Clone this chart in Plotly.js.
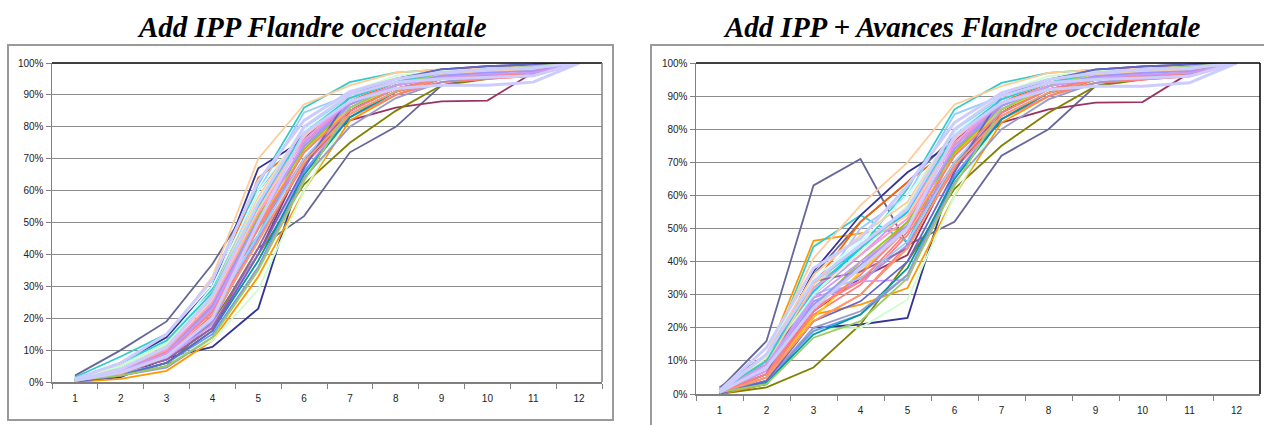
<!DOCTYPE html>
<html>
<head>
<meta charset="utf-8">
<script src="https://cdn.plot.ly/plotly-3.0.1.min.js"></script>
<style>
  html, body { margin: 0; padding: 0; background: #ffffff; }
  #chart { width: 1264px; height: 425px; }
</style>
</head>
<body>
<div id="chart"></div>
<script>
// ---------- DATA ----------
const categories = ['1','2','3','4','5','6','7','8','9','10','11','12'];
const titleLeft = 'Add IPP Flandre occidentale';
const titleRight = 'Add IPP + Avances Flandre occidentale';
const yTickValues = [0,10,20,30,40,50,60,70,80,90,100];
const yTickLabels = ['0%','10%','20%','30%','40%','50%','60%','70%','80%','90%','100%'];

// cumulative % per series, "Add IPP"
const ippValues = [
  [0,1.5,7.5,11,23,68,85,93,96,97,98,100],
  [1,4,9,18,42,52,72,80,93,96,97,100],
  [2,10,19,37,60,78,88,93,97,98,99,100],
  [0.5,3,7,17,40,70,82,86,88,88.2,97,100],
  [0,2,5,19,40,62,75,85,93,95,97,100],
  [0,1,3.5,13,33,60,82,90,95,97,98,100],
  [0.5,4,10,24,48,72,86,93,96,97,98,100],
  [1.5,8,15,29,62,86,94,97,98,98.5,99,100],
  [0.5,5,12,26,46,75,88,94,97,98,98.5,100],
  [1,6,14,33,70,87,93,97,98,98.5,99,100],
  [0.5,2.5,6,13,29,60,84,92,95,96,97,100],
  [1,6,14,30,67,76,91,95,98,99,99.5,100],
  [0.5,4,11,27,64,75,88,94,97,98,99,100],
  [1,5,12,28,60,84.5,90,95,97,98,98.5,100],
  [0.5,3,9,24,52,74,86,92,95,96,97,100],
  [0.5,3.5,9.5,22,48,70,84,91,94,95,96,100],
  [0,2.5,8,21,45,68,83,90,94,95,96,100],
  [0.5,3,8,19,45,73,87,93,96,97,98,100],
  [0.5,4,10,25,55,77,88,93,95,96,97,100],
  [0.5,3,7.5,18,40,66,84,91,95,96,96.5,100],
  [0.5,2.5,6,15,36,66,83,91,95,96,97,100],
  [1,5,13,27,55,80,89,94,97,98,98.5,100],
  [1,5,13,30,60,79,89,94,96,97,98,100],
  [0.5,4,10,23,52,73,86,93,96,97,98,100],
  [0.5,3,9,22,50,72,86,92,95,96,97,100],
  [0.5,4,10,25,53,76,88,93,96,97,98,100],
  [0.5,2,6,16,38,65,83,91,95,96,97,100],
  [0.5,3,7,17,42,70,85,92,95,96,97,100],
  [1,5,12,28,58,80,90,95,97,98,99,100],
  [0.5,3,8,23,50,75,87,93,96,97,98,100],
  [0.5,2,4.5,14,36,64,80,89,94,96,97,100],
  [0.5,3,9,22,46,70,86,93,96,97,98,100],
  [1,5,12,28,57,80,91,96,97.5,98,99,100],
  [0.5,4,11,26,54,77,89,94,96.5,97.5,98,100],
  [0.5,3.5,9,24,51,74,87,93,96,97,97.5,100],
  [0,2,6,16,40,67,90,95,98,99,99.5,100],
  [0.5,2.5,8,20,44,69,84,91,95,96,97,100],
  [0.5,2,5,14,35,63,86,93,97,98,99,100],
  [0.5,3,9,22,49,72,85,92,95,96,97,100],
  [1,6,13,28,56,78,89,94,97,98,98.5,100],
  [0.5,3.5,9,23,50,75,88,93,95.5,96.5,97,100],
  [1,6,15,32,63,82,91,95,97,98,98.5,100],
  [0.5,4,11,27,56,80,90,94,95,95.5,96,100],
  [0.5,3,8,20,50,78,88,92,93,93,94,100]
];

// cumulative % per series, "Add IPP + Avances"
const ippAvancesValues = [
  [0,3,20,21,23,68,85,93,96,97,98,100],
  [1.5,16,63,71,45,52,72,80,93,96,97,100],
  [2,12,36,52,64,78,88,93,97,98,99,100],
  [0.5,6,25,35,42,70,82,86,88,88.2,97,100],
  [0,2,8,21,40,62,75,85,93,95,97,100],
  [0,3,24,27,32,60,82,90,95,97,98,100],
  [0.5,11,46.3,48.5,50,72,86,93,96,97,98,100],
  [1.5,9,32,44,62,86,94,97,98,98.5,99,100],
  [0.5,9,44.5,54,46,75,88,94,97,98,98.5,100],
  [1,12,41,57,70,87.5,93,97,98,98.5,99,100],
  [0.5,6,19.5,20,28.5,60,84,92,95,96,97,100],
  [1,9,37,54,67,76,91,95,98,99,99.5,100],
  [0.5,8,33,52,64,75,88,94,97,98,99,100],
  [1,10,30,50,60,84.5,90,95,97,98,98.5,100],
  [0.5,7,27,38,52,74,86,92,95,96,97,100],
  [0.5,6,24,33,48,70,84,91,94,95,96,100],
  [0,5,22,30,45,68,83,90,94,95,96,100],
  [0.5,6,28,34,45,73,87,93,96,97,98,100],
  [0.5,9,30,42,55,77,88,93,95,96,97,100],
  [0.5,7,29,34,34.5,66,84,91,95,96,96.5,100],
  [0.5,4,19,24,36,66,83,91,95,96,97,100],
  [1,10,31,44,55,80,89,94,97,98,98.5,100],
  [1,14,35,46,60,79,89,94,96,97,98,100],
  [0.5,8,26,40,52,73,86,93,96,97,98,100],
  [0.5,6,23,37,50,72,86,92,95,96,97,100],
  [0.5,10,32,42,53,76,88,93,96,97,98,100],
  [0.5,3.5,18,24,38,65,83,91,95,96,97,100],
  [0.5,6,34,37,44,70,85,92,95,96,97,100],
  [1,12,36,48,58,80,90,95,97,98,99,100],
  [0.5,5,25,36,50,75,87,93,96,97,98,100],
  [0.5,4,20,25,36,64,80,89,94,96,97,100],
  [0.5,8,30,35,46,70,86,93,96,97,98,100],
  [1,11,30,43,57,80,91,96,97.5,98,99,100],
  [0.5,9,33,45,54,77,89,94,96.5,97.5,98,100],
  [0.5,8,27,39,51,74,87,93,96,97,97.5,100],
  [0,4,22,28,40,67,90,95,98,99,99.5,100],
  [0.5,5,22,30,44,69,84,91,95,96,97,100],
  [0.5,3,17,22,35,63,86,93,97,98,99,100],
  [0.5,6,26,34,49,72,85,92,95,96,97,100],
  [1,10,34,44,56,78,89,94,97,98,98.5,100],
  [0.5,9,29,40,50,75,88,93,95.5,96.5,97,100],
  [1,14,38,47,63,82,91,95,97,98,98.5,100],
  [0.5,12,34,45,56,80,90,94,95,95.5,96,100],
  [0.5,8,26,38,50,78,88,92,93,93,94,100]
];

// ---------- STYLE ----------
const seriesColors = [
  '#333399','#666699','#666699','#993366','#808000','#FF9900','#FF9900','#33CCCC',
  '#33CCCC','#FFCC99','#CCFFCC','#333399','#FF6600','#99CCFF','#FF8080','#FF8080',
  '#FF7C80','#9999FF','#CC99FF','#CC99FF','#6699FF','#00CCFF','#CCFFFF','#99CC00',
  '#FFCC00','#FF99CC','#009999','#996699','#FFCC99','#FF8080','#9999CC','#99CCFF',
  '#CCFFCC','#FFCC99','#9999FF','#6666CC','#FF9966','#99CC66','#FF8080','#33CCCC',
  '#CC99FF','#CCCCFF','#CCCCFF','#CCCCFF'
];
const seriesWidths = ippValues.map((_, i) => (i >= ippValues.length - 3 ? 3 : 1.8));

const W = 1264, H = 425;
const px = v => v / W;
const py = v => 1 - v / H;

const traces = [];
ippValues.forEach((vals, i) => {
  traces.push({
    x: categories, y: vals, xaxis: 'x', yaxis: 'y', type: 'scatter', mode: 'lines',
    line: { color: seriesColors[i], width: seriesWidths[i] }, hoverinfo: 'skip', showlegend: false
  });
});
ippAvancesValues.forEach((vals, i) => {
  traces.push({
    x: categories, y: vals, xaxis: 'x2', yaxis: 'y2', type: 'scatter', mode: 'lines',
    line: { color: seriesColors[i], width: seriesWidths[i] }, hoverinfo: 'skip', showlegend: false
  });
});

const tickFont = { family: 'Liberation Sans, Arial, sans-serif', size: 10, color: '#222222' };
const xBase = {
  type: 'category', range: [-0.5, 11.5], tickson: 'boundaries', ticks: 'outside', ticklen: 5,
  tickcolor: '#808080', showline: true, linecolor: '#808080', linewidth: 1.5,
  showgrid: false, zeroline: false, tickfont: tickFont, fixedrange: true,
  ticklabelstandoff: 6
};
const yBase = {
  range: [0, 100], tickmode: 'array', tickvals: yTickValues, ticktext: yTickLabels,
  ticks: 'outside', ticklen: 5, tickcolor: '#808080', showline: true, linecolor: '#808080',
  linewidth: 1.5, showgrid: true, gridcolor: '#8c8c8c', gridwidth: 1, zeroline: false,
  tickfont: tickFont, fixedrange: true
};

const titleFont = { family: 'Liberation Serif, Times New Roman, serif', size: 29, color: '#000000' };

const layout = {
  width: W, height: H,
  margin: { l: 0, r: 0, t: 0, b: 0 },
  paper_bgcolor: '#ffffff', plot_bgcolor: '#ffffff',
  showlegend: false,
  xaxis: Object.assign({}, xBase, { domain: [px(52), px(602)], anchor: 'y' }),
  yaxis: Object.assign({}, yBase, { domain: [py(382), py(63)], anchor: 'x' }),
  xaxis2: Object.assign({}, xBase, { domain: [px(696), px(1260)], anchor: 'y2' }),
  yaxis2: Object.assign({}, yBase, { domain: [py(394), py(63)], anchor: 'x2' }),
  annotations: [
    { text: '<b><i>' + titleLeft + '</i></b>', xref: 'paper', yref: 'paper', x: px(312), y: py(27),
      xanchor: 'center', yanchor: 'middle', showarrow: false, font: titleFont },
    { text: '<b><i>' + titleRight + '</i></b>', xref: 'paper', yref: 'paper', x: px(962), y: py(27),
      xanchor: 'center', yanchor: 'middle', showarrow: false, font: titleFont }
  ],
  shapes: [
    { type: 'rect', xref: 'paper', yref: 'paper', x0: px(8), x1: px(613), y0: py(420), y1: py(45),
      line: { color: '#9a9a9a', width: 2 }, layer: 'below' },
    { type: 'rect', xref: 'paper', yref: 'paper', x0: px(651), x1: px(1290), y0: py(450), y1: py(45),
      line: { color: '#9a9a9a', width: 2 }, layer: 'below' },
    { type: 'line', xref: 'x domain', yref: 'y domain', x0: 0, x1: 1, y0: 1, y1: 1,
      line: { color: '#000000', width: 1.5 } },
    { type: 'line', xref: 'x domain', yref: 'y domain', x0: 1, x1: 1, y0: 0, y1: 1,
      line: { color: '#808080', width: 1.5 } },
    { type: 'line', xref: 'x2 domain', yref: 'y2 domain', x0: 0, x1: 1, y0: 1, y1: 1,
      line: { color: '#000000', width: 1.5 } },
    { type: 'line', xref: 'x2 domain', yref: 'y2 domain', x0: 1, x1: 1, y0: 0, y1: 1,
      line: { color: '#000000', width: 1.5 } }
  ]
};

Plotly.newPlot('chart', traces, layout, { staticPlot: true, displayModeBar: false });
</script>
</body>
</html>
